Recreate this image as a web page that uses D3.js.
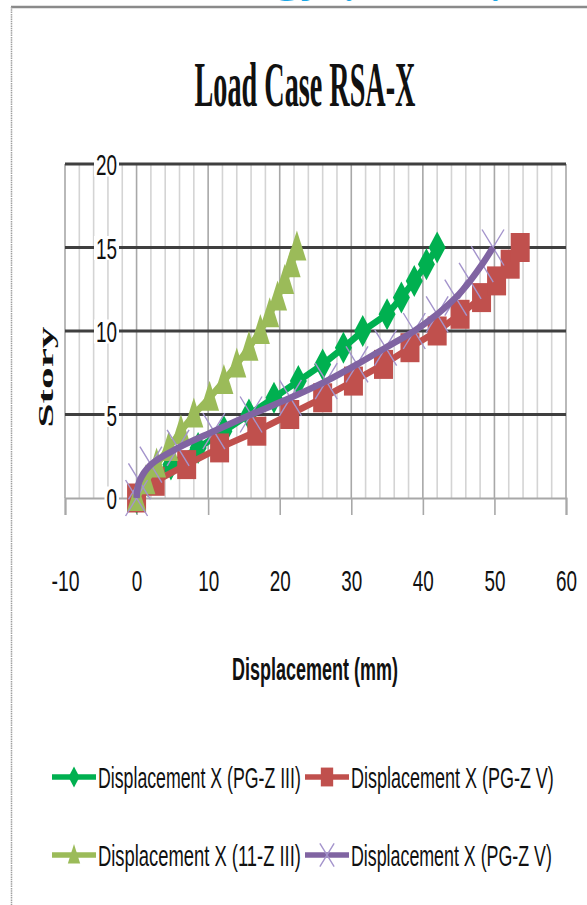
<!DOCTYPE html>
<html><head><meta charset="utf-8">
<script src="https://cdn.jsdelivr.net/npm/d3@7"></script>
<style>body{margin:0;background:#fff;} svg{display:block}</style>
</head><body><svg id="c" width="587" height="905"></svg>
<script>
// ---- data ----
const stories = [0,1,2,3,4,5,6,7,8,9,10,11,12,13,14,15];
const dispPGZ3  = [0,1.6,4.8,8.6,12.2,15.7,19.2,22.6,26,28.9,31.6,35,37,38.8,40.5,42];
const dispPGZ5  = [0,2.6,7,11.6,16.8,21.4,26,30.3,34.5,38.2,42,45.2,48.2,50.3,52.2,53.6];
const disp11Z3  = [0,1.3,2.8,4.5,6.2,8,10.2,12.2,14,15.7,17.3,18.6,19.7,20.7,21.6,22.4];
const dispPGZ5b = [0,0.4,2,5.8,10.8,16,21.5,26.5,30.8,34.8,38.8,42,44.6,46.6,48.3,49.8];
const xTicks = [-10,0,10,20,30,40,50,60];
const yTicks = [0,5,10,15,20];
const seriesNames = ["Displacement X (PG-Z III)","Displacement X (PG-Z V)","Displacement X (11-Z III)","Displacement X (PG-Z V)"];
const seriesColors = ["#00B050","#C0504D","#9BBB59","#8064A2"];
const seriesMarkers = ["diamond","square","triangle","x"];
const seriesValues = [dispPGZ3, dispPGZ5, disp11Z3, dispPGZ5b];
const titleText = "Load Case RSA-X";
const xTitle = "Displacement (mm)";
const yTitle = "Story";

// ---- setup ----
const svg = d3.select("#c");
const x = d3.scaleLinear().domain([-10,60]).range([65,566]);
const y = d3.scaleLinear().domain([0,20]).range([498,164]);
const SANS = "'Liberation Sans Narrow','Liberation Sans',Arial,sans-serif";
const SERIF = "'Liberation Serif','Times New Roman',serif";

// text squeezed horizontally to a target width (scale transform keeps bbox honest)
function squeeze(t, len, extra){
  const nat = t.node().getComputedTextLength() || 1;
  t.attr("transform", (extra||"") + ` scale(${len/nat},1)`);
}
function txt(g, str, px, py, size, len, anchor, family, weight, fill){
  const t = g.append("text").attr("x",0).attr("y",0)
    .attr("font-size",size).attr("font-family",family).attr("font-weight",weight||"normal")
    .attr("fill",fill||"#111").attr("text-anchor",anchor||"middle").text(str);
  squeeze(t, len, `translate(${px},${py})`);
  return t;
}
function numWidth(s){ let w=0; for(const c of s){ w += (c==="-")?7:10.5; } return w; }

// page header fragment (cut off) and frame
txt(svg, "ology (IJITEE)", 212, -4, 24, 296, "start", SANS, "normal", "#1aa7e6");
svg.append("line").attr("x1",11).attr("x2",587).attr("y1",7).attr("y2",7).attr("stroke","#8a8a8a").attr("stroke-width",2.5);
svg.append("line").attr("x1",11.5).attr("x2",11.5).attr("y1",7).attr("y2",905).attr("stroke","#a0a0a0").attr("stroke-width",1.5).attr("stroke-dasharray","1.5,0.8");

// title
txt(svg, titleText, 305, 106, 64, 221, "middle", SERIF, "bold", "#111");

// vertical gridlines
const minor = d3.range(-10,61,2);
svg.append("g").selectAll("line").data(minor).join("line")
  .attr("x1",d=>x(d)).attr("x2",d=>x(d)).attr("y1",y(20)).attr("y2",y(0))
  .attr("stroke",d=>d%10===0?"#a8a8a8":"#d4d4d4").attr("stroke-width",1.6);

// x axis with ticks
const xAxis = svg.append("g").attr("transform",`translate(0,${y(0)})`)
  .call(d3.axisBottom(x).tickValues(xTicks).tickSize(17).tickFormat(d=>String(d)));
xAxis.select(".domain").attr("stroke","#a8a8a8").attr("stroke-width",2);
xAxis.selectAll(".tick line").attr("stroke","#a8a8a8").attr("stroke-width",1.6);
xAxis.selectAll(".tick text").attr("y",0).attr("dy",0).attr("x",0)
  .attr("font-size",30).attr("font-family",SANS).attr("fill","#111")
  .each(function(){ squeeze(d3.select(this), numWidth(this.textContent), "translate(0,93)"); });

// horizontal major gridlines
svg.append("g").selectAll("line").data(yTicks.filter(d=>d>0)).join("line")
  .attr("x1",x(-10)).attr("x2",x(60)).attr("y1",d=>y(d)).attr("y2",d=>y(d))
  .attr("stroke","#3f3f3f").attr("stroke-width",3);

// y axis labels (with white background)
const yAxis = svg.append("g").attr("transform",`translate(117,0)`)
  .call(d3.axisLeft(y).tickValues(yTicks).tickSize(0).tickPadding(0).tickFormat(d=>String(d)));
yAxis.select(".domain").remove();
yAxis.selectAll(".tick").each(function(d){
  const g = d3.select(this);
  const t = g.select("text");
  const w = numWidth(String(d));
  g.insert("rect","text").attr("x",-w-2).attr("y",-12).attr("width",w+4).attr("height",24).attr("fill","#fff");
  t.attr("x",0).attr("y",0).attr("dy","0.36em").attr("font-size",30).attr("font-family",SANS).attr("fill","#111");
  squeeze(t, w, "");
});

// markers
function markerPath(type, k){
  k = k||1;
  switch(type){
    case "diamond": return `M0,${-16*k}L${8.5*k},0L0,${16*k}L${-8.5*k},0Z`;
    case "square": return `M${-9.5*k},${-14.5*k}H${9.5*k}V${14.5*k}H${-9.5*k}Z`;
    case "triangle": return `M0,${-17*k}L${9.5*k},${13*k}L${-9.5*k},${13*k}Z`;
    case "x": return `M${-11*k},${-18*k}L${11*k},${18*k}M${11*k},${-18*k}L${-11*k},${18*k}`;
  }
}
function drawMarker(g, type, color, px, py, k){
  const p = g.append("path").attr("d",markerPath(type,k)).attr("transform",`translate(${px},${py})`);
  if(type==="x") p.attr("fill","none").attr("stroke","#a494cc").attr("stroke-width",1.4);
  else p.attr("fill",color);
}

// series
const plot = svg.append("g");
seriesValues.forEach((vals,i)=>{
  const pts = stories.map((s,k)=>[vals[k], s]);
  const line = d3.line().x(d=>x(d[0])).y(d=>y(d[1]))
    .curve(i===3 ? d3.curveCatmullRom.alpha(0.5) : d3.curveLinear);
  const g = plot.append("g");
  if(i===3){
    pts.forEach(d=>drawMarker(g, seriesMarkers[i], seriesColors[i], x(d[0]), y(d[1])));
    g.append("path").datum(pts).attr("d",line).attr("fill","none")
      .attr("stroke",seriesColors[i]).attr("stroke-width",6.5).attr("stroke-linejoin","round");
  } else {
    g.append("path").datum(pts).attr("d",line).attr("fill","none")
      .attr("stroke",seriesColors[i]).attr("stroke-width",6.5).attr("stroke-linejoin","round");
    pts.forEach(d=>drawMarker(g, seriesMarkers[i], seriesColors[i], x(d[0]), y(d[1])));
  }
});

// axis titles
txt(svg, xTitle, 315, 680, 32, 166, "middle", SANS, "bold", "#111");
const yt = svg.append("g").attr("transform","translate(53,377) rotate(-90)");
txt(yt, yTitle, 0, 0, 21, 101, "middle", SERIF, "bold", "#111");

// legend
const legPos = [[52,777],[305,777],[52,855],[305,855]];
const leg = svg.append("g");
seriesNames.forEach((name,i)=>{
  const [lx,ly] = legPos[i];
  leg.append("line").attr("x1",lx).attr("x2",lx+44).attr("y1",ly).attr("y2",ly)
    .attr("stroke",seriesColors[i]).attr("stroke-width",5.5);
  drawMarker(leg, seriesMarkers[i], seriesColors[i], lx+22, ly, 0.65);
  txt(leg, name, lx+46, ly+11, 30, i===3?201:203, "start", SANS, "normal", "#111");
});
</script></body></html>
